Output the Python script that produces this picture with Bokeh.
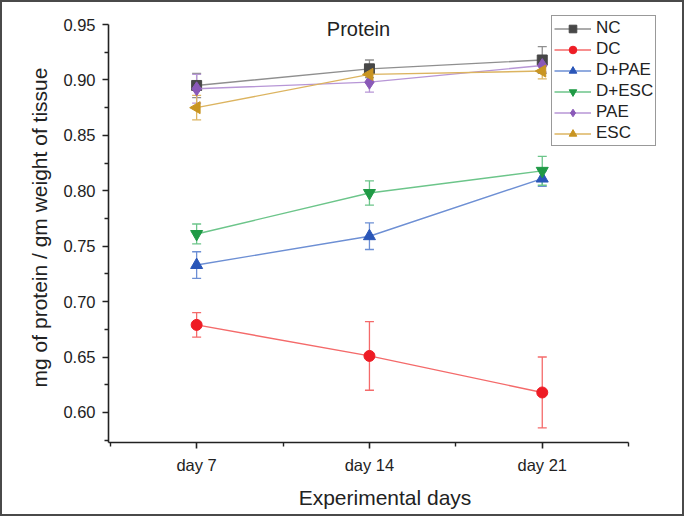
import numpy as np
from bokeh.plotting import figure
from bokeh.models import (ColumnDataSource, Whisker, TeeHead, FixedTicker, Range1d,
                          Legend, LegendItem, Label, NumeralTickFormatter)
from bokeh.embed import file_html
from bokeh.resources import INLINE

days = ["day 7", "day 14", "day 21"]
groups = ["NC", "DC", "D+PAE", "D+ESC", "PAE", "ESC"]

nc_mean = [0.895, 0.910, 0.918]
nc_err = [0.011, 0.008, 0.012]
dc_mean = [0.679, 0.651, 0.618]
dc_err = [0.011, 0.031, 0.032]
dpae_mean = [0.733, 0.759, 0.811]
dpae_err = [0.012, 0.012, 0.007]
desc_mean = [0.761, 0.798, 0.818]
desc_err = [0.009, 0.011, 0.013]
pae_mean = [0.892, 0.898, 0.913]
pae_err = [0.013, 0.009, 0.006]
esc_mean = [0.875, 0.905, 0.908]
esc_err = [0.011, 0.007, 0.007]

y_ticks = [0.60, 0.65, 0.70, 0.75, 0.80, 0.85, 0.90, 0.95]

FONT = "Liberation Sans"

p = figure(width=684, height=516, output_backend="svg", toolbar_location=None,
           x_range=Range1d(0.49, 3.69), y_range=Range1d(0.57287, 0.96085),
           min_border_left=106, min_border_right=25, min_border_top=10,
           min_border_bottom=76)
p.styles = {"border": "2px solid #4a4a4a", "box-sizing": "border-box"}
p.xgrid.visible = False
p.ygrid.visible = False
p.outline_line_color = None
p.background_fill_color = "white"
p.border_fill_color = "white"

xs = [i + 1 for i in range(len(days))]

series = [
    ("NC", nc_mean, nc_err, "#474747", "#8f8f8f", "square", 10, 0.0),
    ("DC", dc_mean, dc_err, "#ee1c25", "#f46a6a", "circle", 11, 0.0),
    ("D+PAE", dpae_mean, dpae_err, "#2a56b8", "#6d8fd4", "triangle", 12, 0.0),
    ("D+ESC", desc_mean, desc_err, "#1f9a45", "#6cc58a", "inverted_triangle", 12, 0.0),
    ("PAE", pae_mean, pae_err, "#8a59b8", "#b796d6", "diamond", 14, 0.0),
    ("ESC", esc_mean, esc_err, "#c99522", "#dcb460", "triangle", 12, np.pi / 2),
]

items = []
for name, m, e, c, lc, mk, sz, ang in series:
    src = ColumnDataSource(dict(x=xs, y=m,
                                upper=[a + b for a, b in zip(m, e)],
                                lower=[a - b for a, b in zip(m, e)],
                                ang=[ang] * len(xs)))
    w = Whisker(source=src, base="x", upper="upper", lower="lower",
                line_color=lc, line_width=1.3,
                upper_head=TeeHead(size=9, line_color=lc, line_width=1.3),
                lower_head=TeeHead(size=9, line_color=lc, line_width=1.3))
    p.add_layout(w)
    r1 = p.line("x", "y", source=src, line_color=lc, line_width=1.4)
    r2 = p.scatter("x", "y", source=src, marker=mk, size=sz, angle="ang",
                   fill_color=c, line_color=c)
    items.append(LegendItem(label=name, renderers=[r1, r2], index=0))

legend = Legend(items=items, location=(443, 296), orientation="vertical",
                label_text_font=FONT, label_text_font_size="17px",
                label_text_color="#222222", glyph_width=37, glyph_height=19,
                spacing=1, padding=2, margin=0, label_standoff=5,
                border_line_color="#333333", border_line_width=1.5,
                background_fill_color="white", background_fill_alpha=1.0)
p.add_layout(legend, "center")

p.add_layout(Label(x=250, y=414, x_units="screen", y_units="screen", text="Protein",
                   text_font=FONT, text_font_size="20px", text_align="center",
                   text_baseline="middle", text_color="#222222"))

p.xaxis.ticker = FixedTicker(ticks=xs, minor_ticks=[0.5, 1.5, 2.5, 3.5])
p.xaxis.major_label_overrides = {x: d for x, d in zip(xs, days)}
p.xaxis.bounds = (0.49, 3.5)
p.yaxis.ticker = FixedTicker(ticks=y_ticks,
                             minor_ticks=[0.575 + 0.05 * i for i in range(8)])
p.yaxis.formatter = NumeralTickFormatter(format="0.00")
p.yaxis.bounds = (0.57287, 0.95)

for ax in (p.xaxis, p.yaxis):
    ax.axis_line_width = 1.6
    ax.axis_line_color = "#222222"
    ax.major_tick_line_color = "#222222"
    ax.minor_tick_line_color = "#222222"
    ax.major_tick_line_width = 1.6
    ax.minor_tick_line_width = 1.4
    ax.major_tick_out = 6
    ax.major_tick_in = 0
    ax.minor_tick_out = 4
    ax.minor_tick_in = 0
    ax.major_label_text_font = FONT
    ax.major_label_text_font_size = "16.5px"
    ax.major_label_text_color = "#222222"
    ax.axis_label_text_font = FONT
    ax.axis_label_text_font_size = "21px"
    ax.axis_label_text_font_style = "normal"
    ax.axis_label_text_color = "#222222"

p.xaxis.axis_label = "Experimental days"
p.yaxis.axis_label = "mg of protein / gm weight of tissue"
p.xaxis.major_label_standoff = 7
p.xaxis.axis_label_standoff = 9
p.yaxis.major_label_standoff = 7
p.yaxis.axis_label_standoff = 9

open("out.html", "w").write(file_html(p, INLINE))
